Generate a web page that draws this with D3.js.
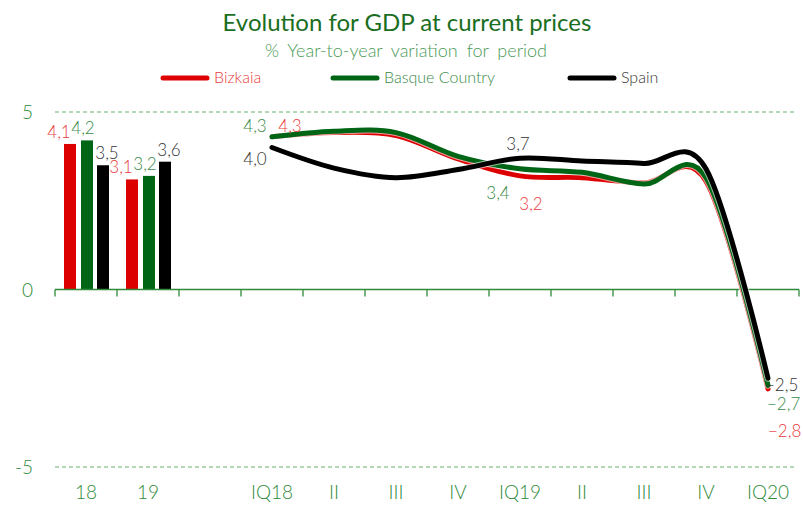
<!DOCTYPE html>
<html>
<head>
<meta charset="utf-8">
<script src="https://cdn.jsdelivr.net/npm/d3@7"></script>
<style>
  body { margin: 0; background: #fff; }
  svg { font-family: Lato, 'Open Sans', sans-serif; font-weight: 300; }
</style>
</head>
<body>
<svg id="chart" width="803" height="507"></svg>
<script>
'use strict'

// categories on the x axis ('' is the empty gap slot)
const categories = ['18', '19', '', 'IQ18', 'II', 'III', 'IV', 'IQ19', 'II', 'III', 'IV', 'IQ20'];
const seriesNames = ['Bizkaia', 'Basque Country', 'Spain'];

// annual bars (18, 19)
const annualBizkaia = [4.1, 3.1];
const annualBasque = [4.2, 3.2];
const annualSpain = [3.5, 3.6];

// quarterly lines (IQ18 .. IQ20)
const qBizkaia = [4.3, 4.42, 4.34, 3.68, 3.2, 3.15, 3.0, 3.05, -2.8];
const qBasque = [4.3, 4.46, 4.42, 3.75, 3.4, 3.3, 2.97, 3.15, -2.7];
const qSpain = [4.0, 3.42, 3.15, 3.38, 3.7, 3.62, 3.55, 3.4, -2.5];

const yTicks = [-5, 0, 5];

const colors = ['#dd0000', '#006616', '#000000'];
const textColors = ['#e83c3c', '#3a8a48', '#333333'];
const axisGreen = '#2f8a3a';

const svg = d3.select('#chart');

const x = d3.scaleBand()
  .domain(d3.range(categories.length))
  .range([55, 799])
  .paddingInner(0)
  .paddingOuter(0);

const y = d3.scaleLinear()
  .domain([-5, 5])
  .range([467, 112]);

// title
svg.append('text')
  .attr('x', 407).attr('y', 31)
  .attr('text-anchor', 'middle')
  .attr('font-size', 24)
  .attr('font-weight', 400)
  .attr('fill', '#1a6e22')
  .text('Evolution for GDP at current prices');

svg.append('text')
  .attr('x', 406).attr('y', 57)
  .attr('text-anchor', 'middle')
  .attr('font-size', 18)
  .attr('fill', '#4a9a58')
  .attr('word-spacing', 4)
  .text('% Year-to-year variation for period');

// legend
const legendX = [163, 333, 570];
seriesNames.forEach((name, i) => {
  const g = svg.append('g').attr('transform', `translate(${legendX[i]},78)`);
  g.append('line')
    .attr('x1', 0).attr('x2', 44)
    .attr('stroke', colors[i])
    .attr('stroke-width', 5)
    .attr('stroke-linecap', 'round');
  g.append('text')
    .attr('x', 51).attr('y', 5)
    .attr('font-size', 16)
    .attr('fill', textColors[i])
    .text(name);
});

// gridlines at +5 / -5
svg.append('g')
  .selectAll('line')
  .data(yTicks.filter(d => d !== 0))
  .join('line')
  .attr('x1', 55).attr('x2', 797)
  .attr('y1', d => y(d)).attr('y2', d => y(d))
  .attr('stroke', '#9ccb9f')
  .attr('stroke-width', 1.3)
  .attr('stroke-dasharray', '4,3');

// y labels
svg.append('g')
  .selectAll('text')
  .data(yTicks)
  .join('text')
  .attr('x', 33)
  .attr('y', d => y(d) + 7)
  .attr('text-anchor', 'end')
  .attr('font-size', 19)
  .attr('fill', axisGreen)
  .text(d => d);

// bars
const annual = [annualBizkaia, annualBasque, annualSpain];
const barOffsets = [9, 26, 42];
const barW = 12;
const labelShift = [-11, -4, 4];
annual.forEach((vals, s) => {
  vals.forEach((v, i) => {
    const bx = x(i) + barOffsets[s];
    svg.append('rect')
      .attr('x', bx).attr('y', y(v))
      .attr('width', barW).attr('height', y(0) - y(v))
      .attr('fill', colors[s]);
    svg.append('text')
      .attr('x', bx + barW / 2 + labelShift[s])
      .attr('y', y(v) - 6)
      .attr('text-anchor', 'middle')
      .attr('font-size', 17)
      .attr('fill', textColors[s])
      .text(d3.format('.1f')(v).replace('.', ','));
  });
});

// x axis (zero line)
const xAxis = svg.append('g');
xAxis.append('line')
  .attr('x1', 55).attr('x2', 799)
  .attr('y1', y(0)).attr('y2', y(0))
  .attr('stroke', axisGreen)
  .attr('stroke-width', 1.5);
xAxis.selectAll('.tick')
  .data(d3.range(categories.length + 1))
  .join('line')
  .attr('x1', d => 55 + d * x.step()).attr('x2', d => 55 + d * x.step())
  .attr('y1', y(0)).attr('y2', y(0) + 7)
  .attr('stroke', axisGreen)
  .attr('stroke-width', 1.3);
xAxis.selectAll('text')
  .data(categories)
  .join('text')
  .attr('x', (d, i) => x(i) + x.bandwidth() / 2)
  .attr('y', 499)
  .attr('text-anchor', 'middle')
  .attr('font-size', 19)
  .attr('fill', axisGreen)
  .text(d => d);

// lines
const quarterly = [qBizkaia, qBasque, qSpain];
const line = d3.line()
  .x((d, i) => x(i + 3) + x.bandwidth() / 2)
  .y(d => y(d))
  .curve(d3.curveCatmullRom.alpha(0));

quarterly.forEach((vals, s) => {
  svg.append('path')
    .datum(vals)
    .attr('d', line)
    .attr('fill', 'none')
    .attr('stroke', '#fff')
    .attr('stroke-width', 7)
    .attr('stroke-opacity', 0.6)
    .attr('stroke-linecap', 'round');
  svg.append('path')
    .datum(vals)
    .attr('d', line)
    .attr('fill', 'none')
    .attr('stroke', colors[s])
    .attr('stroke-width', 5)
    .attr('stroke-linecap', 'round');
});

// line labels [series, index, dx, dy, anchor]
const lineLabels = [
  [1, 0, -17, -11, 'middle'], [0, 0, 18, -11, 'middle'], [2, 0, -17, 11, 'middle'],
  [2, 4, -2, -14, 'middle'], [1, 4, -22, 24, 'middle'], [0, 4, 11, 28, 'middle'],
  [2, 8, -3, 7, 'start'], [1, 8, -1, 19, 'start'], [0, 8, 0, 42, 'start']
];
lineLabels.forEach(([s, i, dx, dy, anchor]) => {
  const v = quarterly[s][i];
  svg.append('text')
    .attr('x', x(i + 3) + x.bandwidth() / 2 + dx)
    .attr('y', y(v) + dy + 6)
    .attr('text-anchor', anchor)
    .attr('font-size', 17)
    .attr('fill', textColors[s])
    .text(d3.format('.1f')(v).replace('.', ','));
});
</script>
</body>
</html>
